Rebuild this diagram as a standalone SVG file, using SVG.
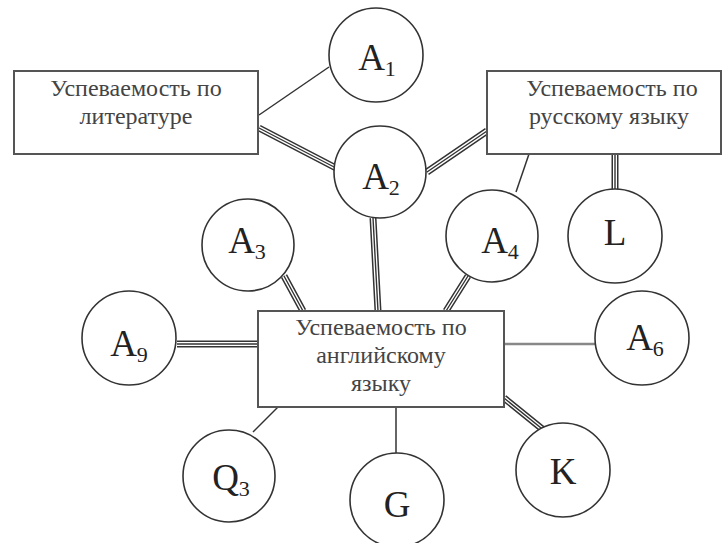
<svg xmlns="http://www.w3.org/2000/svg" width="723" height="543" viewBox="0 0 723 543">
<defs>
<style>
.box{fill:#fff;stroke:#555;stroke-width:2}
.node{fill:#fff;stroke:#333;stroke-width:1.6}
.bt{font-family:"Liberation Serif","Times New Roman",serif;font-size:24px;fill:#444;text-anchor:middle}
.nt{font-family:"Liberation Serif","Times New Roman",serif;font-size:37px;fill:#222;text-anchor:middle}
.sub{font-size:22px}
.thin{fill:none;stroke:#333;stroke-width:1.5}
.gray{fill:none;stroke:#888;stroke-width:2.5}
.t1{fill:none;stroke:#333;stroke-width:7}
.t2{fill:none;stroke:#fff;stroke-width:4}
.t3{fill:none;stroke:#333;stroke-width:1.4}
</style>
</defs>
<rect width="723" height="543" fill="#fff"/>
<g id="connectors">
<line class="thin" x1="259" y1="115" x2="329" y2="67"/>
<line class="thin" x1="529" y1="154" x2="516" y2="192"/>
<line class="gray" x1="504" y1="344" x2="595" y2="344"/>
<line class="thin" x1="278" y1="407" x2="253" y2="432"/>
<line class="thin" x1="396" y1="407" x2="396" y2="454"/>
<g id="triple">
<path class="t1" d="M259,128 L336,168 M427,172 L487,131 M373,218 L378,311 M615,154 L615,191 M284,276 L303,311 M468,276 L446,311 M177,344 L258,344 M504,398 L546,432"/>
<path class="t2" d="M259,128 L336,168 M427,172 L487,131 M373,218 L378,311 M615,154 L615,191 M284,276 L303,311 M468,276 L446,311 M177,344 L258,344 M504,398 L546,432"/>
<path class="t3" d="M259,128 L336,168 M427,172 L487,131 M373,218 L378,311 M615,154 L615,191 M284,276 L303,311 M468,276 L446,311 M177,344 L258,344 M504,398 L546,432"/>
</g>
</g>
<g id="box-lit">
<rect class="box" x="14" y="71" width="244" height="83"/>
<text class="bt" x="136" y="96">Успеваемость по</text>
<text class="bt" x="136" y="124">литературе</text>
</g>
<g id="box-rus">
<rect class="box" x="487" y="71" width="234" height="83"/>
<text class="bt" x="612" y="96">Успеваемость по</text>
<text class="bt" x="609" y="124">русскому языку</text>
</g>
<g id="box-eng">
<rect class="box" x="258" y="311" width="246" height="96"/>
<text class="bt" x="381" y="335">Успеваемость по</text>
<text class="bt" x="381" y="363">английскому</text>
<text class="bt" x="381" y="391">языку</text>
</g>
<g id="A1">
<circle class="node" cx="376" cy="55" r="47"/>
<text class="nt" x="377" y="70">A<tspan class="sub" dy="6">1</tspan></text>
</g>
<g id="A2">
<circle class="node" cx="380" cy="172" r="46"/>
<text class="nt" x="381" y="189">A<tspan class="sub" dy="6">2</tspan></text>
</g>
<g id="A3">
<circle class="node" cx="248" cy="245" r="46"/>
<text class="nt" x="247" y="253">A<tspan class="sub" dy="6">3</tspan></text>
</g>
<g id="A4">
<circle class="node" cx="492" cy="236" r="46"/>
<text class="nt" x="500" y="253">A<tspan class="sub" dy="6">4</tspan></text>
</g>
<g id="L">
<circle class="node" cx="615" cy="236" r="47"/>
<text class="nt" x="615" y="245">L</text>
</g>
<g id="A9">
<circle class="node" cx="129" cy="338" r="47"/>
<text class="nt" x="129" y="356">A<tspan class="sub" dy="6">9</tspan></text>
</g>
<g id="A6">
<circle class="node" cx="642" cy="338" r="47"/>
<text class="nt" x="645" y="350">A<tspan class="sub" dy="6">6</tspan></text>
</g>
<g id="Q3">
<circle class="node" cx="229" cy="476" r="46"/>
<text class="nt" x="231" y="490">Q<tspan class="sub" dy="6">3</tspan></text>
</g>
<g id="G">
<circle class="node" cx="397" cy="500" r="47"/>
<text class="nt" x="397" y="517">G</text>
</g>
<g id="K">
<circle class="node" cx="563" cy="470" r="47"/>
<text class="nt" x="563" y="484">K</text>
</g>
</svg>
